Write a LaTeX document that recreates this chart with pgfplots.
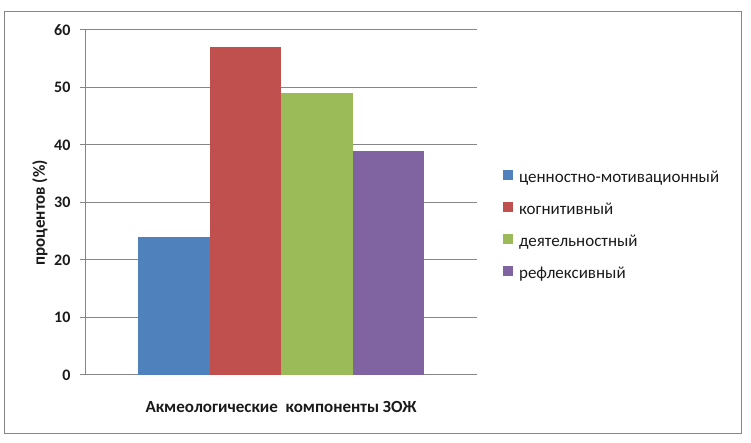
\documentclass[border=0pt]{standalone}
\usepackage{fontspec}
\setmainfont{Carlito}
\usepackage{pgfplots}
\pgfplotsset{compat=1.18}
\definecolor{c1}{HTML}{4F81BD}
\definecolor{c2}{HTML}{C0504D}
\definecolor{c3}{HTML}{9BBB59}
\definecolor{c4}{HTML}{8064A2}
\definecolor{gridc}{HTML}{868686}
\definecolor{txt}{HTML}{1A1A1A}
\begin{document}
\begin{tikzpicture}
\useasboundingbox (0pt,0pt) rectangle (751pt,443pt);
\draw[gridc, line width=1pt] (4.5pt,9pt) rectangle (741.5pt,431pt);
\begin{axis}[
  at={(85pt,68pt)}, anchor=south west,
  scale only axis, width=392pt, height=345pt,
  xmin=-1, xmax=1, ymin=0, ymax=60,
  ytick={0,10,...,60}, xtick=\empty,
  ybar=0pt, bar width=71.5pt,
  axis x line*=bottom, axis y line*=left,
  axis line style={draw=gridc, line width=1pt, -},
  ymajorgrids, grid style={draw=gridc, line width=1pt},
  major tick length=5pt, tick align=outside, ytick pos=left,
  y tick style={draw=gridc, line width=1pt},
  /pgf/number format/assume math mode=true,
  yticklabel style={font=\fontsize{16}{18}\selectfont\bfseries, text=txt, xshift=-6pt},
  ylabel={процентов (\%)},
  ylabel style={font=\fontsize{17}{19}\selectfont\bfseries, text=txt, at={(axis description cs:-0.115,0.47)}, anchor=center},
  xlabel={Акмеологические\ \ компоненты ЗОЖ},
  xlabel style={font=\fontsize{17}{19}\selectfont\bfseries, text=txt, at={(axis description cs:0.5,0)}, anchor=north, yshift=-23pt},
  legend style={at={(1.066,0.596)}, anchor=north west, draw=none, fill=none, inner sep=0pt,
    font=\fontsize{17}{19}\selectfont, text=txt,
    nodes={inner sep=0pt, text height=12pt, text depth=4pt, anchor=west}, row sep=15pt, column sep=6pt},
  legend cell align=left,
  legend image code/.code={\fill[#1] (0pt,-1pt) rectangle (10pt,9pt);},
]
\addplot[fill=c1, draw=none] coordinates {(0,24)};
\addplot[fill=c2, draw=none] coordinates {(0,57)};
\addplot[fill=c3, draw=none] coordinates {(0,49)};
\addplot[fill=c4, draw=none] coordinates {(0,39)};
\legend{ценностно-мотивационный, когнитивный, деятельностный, рефлексивный}
\end{axis}
\end{tikzpicture}
\end{document}
